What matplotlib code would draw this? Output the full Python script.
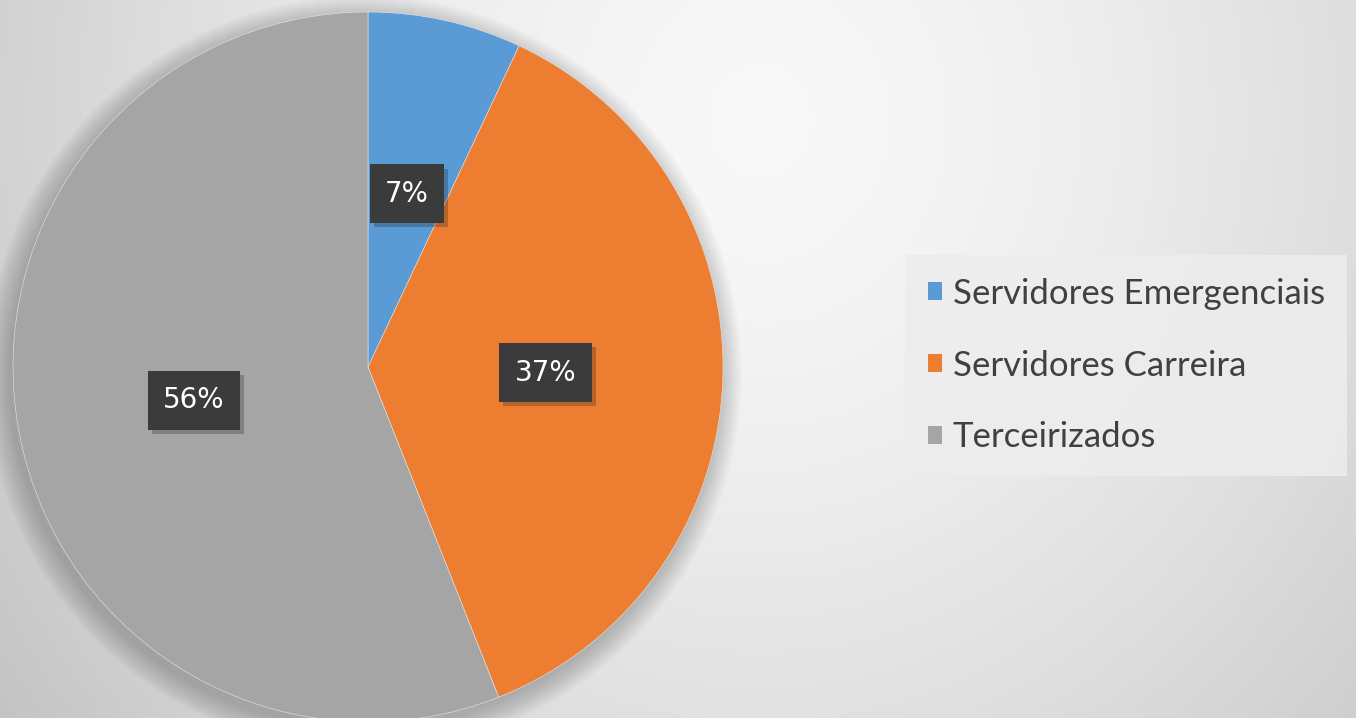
import numpy as np
import matplotlib
matplotlib.use("Agg")
import matplotlib.pyplot as plt
import matplotlib.patheffects as pe

# data
categories = ['Servidores Emergenciais', 'Servidores Carreira', 'Terceirizados']
shares = [7, 37, 56]
colors = ['#5B9BD5', '#ED7D31', '#A5A5A5']

W, H = 1356, 718
fig = plt.figure(figsize=(W / 100, H / 100), dpi=100)

# soft radial background, lightest near the top middle
bg = fig.add_axes([0, 0, 1, 1])
yy, xx = np.mgrid[0:H, 0:W]
d = np.sqrt(((xx - 760) / 820.0) ** 2 + ((yy - 120) / 900.0) ** 2)
shade = 0.975 - 0.17 * np.clip(d, 0, 1.3) ** 1.5
bg.imshow(np.dstack([shade] * 3), extent=[0, W, H, 0], aspect='auto')
bg.axis('off')

# pie axes: centre (368, 367), radius ~355 px
r = 355
cx, cy = 368, 367
ax = fig.add_axes([(cx - r) / W, (H - cy - r) / H, 2 * r / W, 2 * r / H])
ax.set_facecolor('none')

# soft shadow under the pie
for k in range(14):
    ax.add_patch(plt.Circle((-0.012, -0.02), 1.0 + 0.005 * k, color='black',
                            alpha=0.014, zorder=0, lw=0, clip_on=False))

wedges, texts, autotexts = ax.pie(
    shares, colors=colors, startangle=90, counterclock=False,
    autopct='%1.0f%%', pctdistance=0.5, radius=1.0,
    wedgeprops=dict(linewidth=0.4, edgecolor='#e6e6e6'))
for w in wedges:
    w.set_clip_on(False)
for t in autotexts:
    t.set_color('white')
    t.set_fontsize(20)
    t.set_fontfamily('DejaVu Sans')
    t.set_bbox(dict(boxstyle='square,pad=0.55', facecolor='#3b3b3b',
                    edgecolor='none',
                    path_effects=[pe.withSimplePatchShadow(offset=(3, -3), alpha=0.25)]))
ax.set_xlim(-1, 1)
ax.set_ylim(-1, 1)
ax.set_aspect('equal')
ax.axis('off')

# legend box on the right
leg = fig.legend(wedges, categories, loc='upper left',
                 bbox_to_anchor=(905 / W, 1 - 255 / H),
                 frameon=True, fancybox=False,
                 prop={'family': 'Lato', 'size': 25},
                 handlelength=0.42, handleheight=0.42, handletextpad=0.3,
                 labelspacing=1.15, borderpad=0.65, borderaxespad=0)
leg.get_frame().set_facecolor('#ededed')
leg.get_frame().set_edgecolor('none')
leg.get_frame().set_alpha(0.85)
for t in leg.get_texts():
    t.set_color('#404040')
for h in leg.legend_handles:
    h.set_edgecolor('none')

fig.savefig('out.png', dpi=100)
